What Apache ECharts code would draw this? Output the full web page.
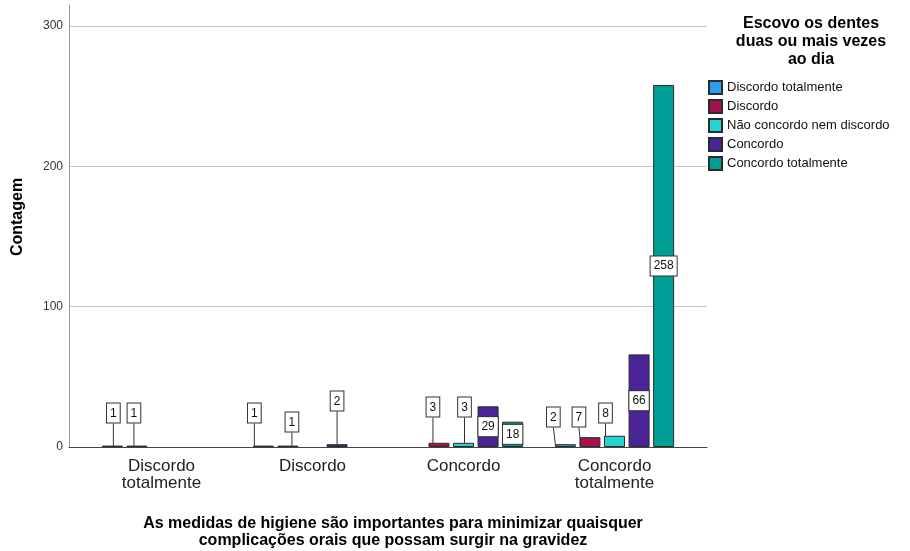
<!DOCTYPE html>
<html>
<head>
<meta charset="utf-8">
<script src="https://cdn.jsdelivr.net/npm/echarts@6/dist/echarts.min.js"></script>
<style>
  html, body { margin: 0; padding: 0; background: #fff; }
  #chart { width: 910px; height: 551px; }
</style>
</head>
<body>
<div id="chart"></div>
<script>
const categories = ['Discordo\ntotalmente', 'Discordo', 'Concordo', 'Concordo\ntotalmente'];
const seriesNames = ['Discordo totalmente', 'Discordo', 'Não concordo nem discordo', 'Concordo', 'Concordo totalmente'];
const discordoTotalmente = [1, 1, null, 2];
const discordo = [1, 1, 3, 7];
const naoConcordoNemDiscordo = [null, null, 3, 8];
const concordo = [null, 2, 29, 66];
const concordoTotalmente = [null, null, 18, 258];
const yTicks = [0, 100, 200, 300];

const colors = ['#2a9ff0', '#a3124f', '#24d4d4', '#4a2496', '#009e96'];
const font = 'Arial, "Liberation Sans", sans-serif';

// where the small-bar labels sit: [dx from bar centre, label centre y]
const callout = {
  '0-0': [1, 413], '0-1': [-9, 413], '0-3': [-12, 417],
  '1-0': [-3, 413], '1-1': [4, 422], '1-2': [-6, 407], '1-3': [-11, 417],
  '2-2': [1, 407], '2-3': [-9, 413],
  '3-1': [0, 401]
};

const allValues = [discordoTotalmente, discordo, naoConcordoNemDiscordo, concordo, concordoTotalmente];

const chart = echarts.init(document.getElementById('chart'));

const series = allValues.map((vals, si) => ({
  name: seriesNames[si],
  type: 'bar',
  xAxisIndex: 1,
  yAxisIndex: 1,
  barWidth: 21,
  barGap: '17%',
  data: vals.map(v => v === null ? '-' : {
    value: v,
    label: { position: v < 10 ? 'top' : 'inside' }
  }),
  itemStyle: { color: colors[si], borderColor: '#2b2b2b', borderWidth: 1 },
  label: {
    show: true,
    fontFamily: font,
    fontSize: 12,
    color: '#111',
    backgroundColor: '#fff',
    borderColor: '#333',
    borderWidth: 1,
    padding: [4, 3, 3, 3]
  },
  labelLine: { show: true, lineStyle: { color: '#333', width: 1 } },
  labelLayout: function (p) {
    const pos = callout[si + '-' + p.dataIndex];
    if (!pos) return {};
    const cy = p.labelRect.y + p.labelRect.height / 2;
    return { dx: pos[0], dy: pos[1] - cy };
  }
}));

const option = {
  animation: false,
  color: colors,
  title: [
    {
      text: 'Escovo os dentes\nduas ou mais vezes\nao dia',
      left: 806, top: 10, textAlign: 'center',
      textStyle: { fontFamily: font, fontSize: 16, fontWeight: 'bold', color: '#000', lineHeight: 18 }
    },
    {
      text: 'As medidas de higiene são importantes para minimizar quaisquer\ncomplicações orais que possam surgir na gravidez',
      left: 388, top: 510, textAlign: 'center',
      textStyle: { fontFamily: font, fontSize: 16, fontWeight: 'bold', color: '#000', lineHeight: 17 }
    }
  ],
  graphic: [{
    type: 'text',
    x: 18, y: 217, rotation: Math.PI / 2,
    style: {
      text: 'Contagem', font: 'bold 16px ' + font, fill: '#000',
      align: 'center', verticalAlign: 'middle'
    }
  }],
  legend: {
    orient: 'vertical',
    left: 708, top: 80,
    padding: 0,
    itemWidth: 13, itemHeight: 13, itemGap: 4,
    icon: 'rect',
    data: seriesNames,
    textStyle: { fontFamily: font, fontSize: 13, color: '#111' }
  },
  grid: [
    { left: 69, right: 203, top: 5, bottom: 104 },
    { left: 86, right: 220, top: 5, bottom: 104 }
  ],
  xAxis: [
    {
      gridIndex: 0, type: 'value', min: 0, max: 1,
      axisLine: { show: true, lineStyle: { color: '#444' } },
      axisTick: { show: false }, axisLabel: { show: false }, splitLine: { show: false }
    },
    {
      gridIndex: 1, type: 'category', data: categories,
      axisLine: { show: false }, axisTick: { show: false },
      axisLabel: { fontFamily: font, fontSize: 17, color: '#222', lineHeight: 17, margin: 11 }
    }
  ],
  yAxis: [
    {
      gridIndex: 0, type: 'value', min: 0, max: 315, interval: 100,
      axisLine: { show: true, lineStyle: { color: '#999' } },
      axisTick: { show: false },
      axisLabel: {
        fontFamily: font, fontSize: 12, color: '#333', margin: 6,
        formatter: v => yTicks.includes(v) ? String(v) : ''
      },
      splitLine: { show: true, showMaxLine: false, lineStyle: { color: '#c8c8c8' } }
    },
    { gridIndex: 1, type: 'value', min: 0, max: 315, show: false, splitLine: { show: false } }
  ],
  series: series
};

chart.setOption(option);
</script>
</body>
</html>
